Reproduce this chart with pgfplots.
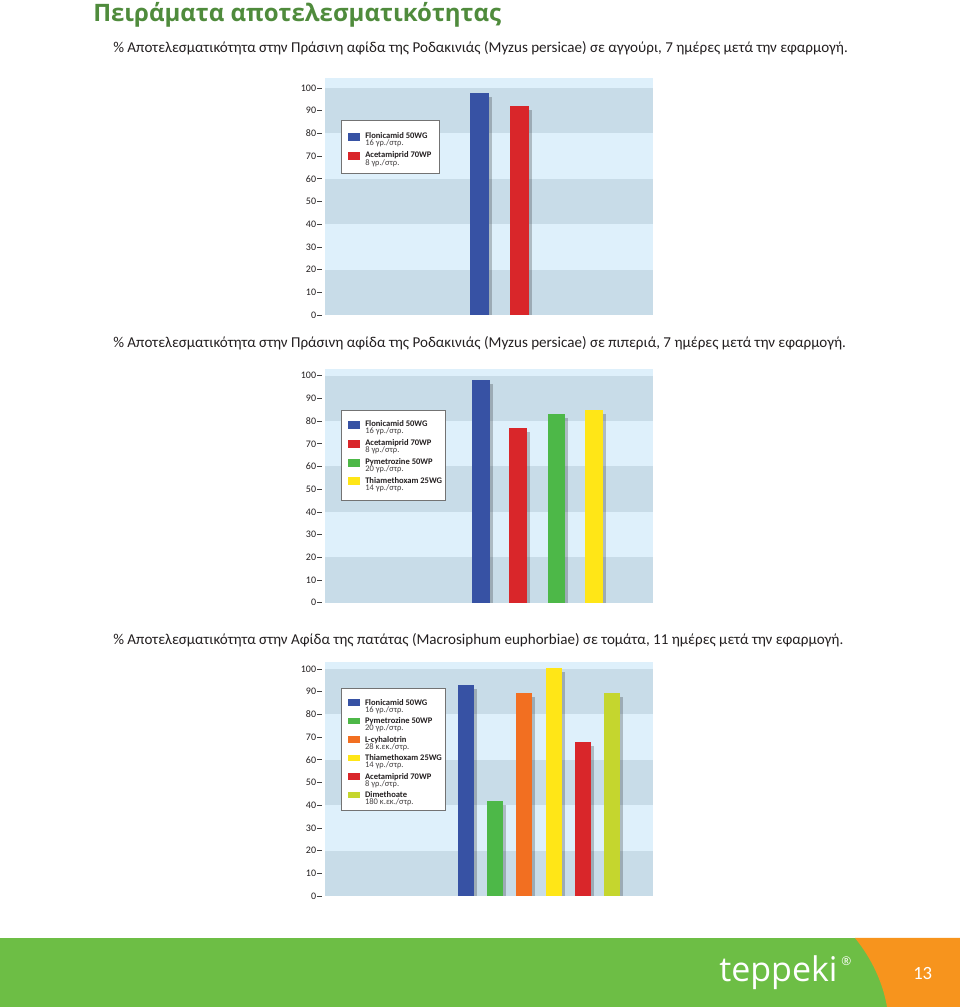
\documentclass[border=0pt]{standalone}
\usepackage{pgfplots}
\pgfplotsset{compat=1.18}
\usepackage{fontspec}
\setmainfont{Carlito}
\newfontfamily\titlefont{Open Sans}
\newfontfamily\logofont{Open Sans}

\definecolor{bandA}{RGB}{200,220,232}
\definecolor{bandB}{RGB}{222,240,251}
\definecolor{cblue}{RGB}{55,82,164}
\definecolor{cred}{RGB}{217,38,42}
\definecolor{cgreen}{RGB}{77,184,72}
\definecolor{cyellow}{RGB}{255,230,23}
\definecolor{corange}{RGB}{242,111,33}
\definecolor{clime}{RGB}{197,214,46}
\definecolor{titlegreen}{RGB}{79,139,60}
\definecolor{footgreen}{RGB}{109,190,69}
\definecolor{footorange}{RGB}{247,148,29}
\definecolor{txt}{RGB}{35,31,32}

\pgfplotsset{
  mychart/.style={
    scale only axis, width=246pt,
    xmin=325, xmax=653, ymin=0,
    ytick={0,10,...,100}, xtick=\empty, ytick pos=left,
    axis line style={draw=none},
    tick align=outside, major tick length=3.75pt,
    ytick style={draw=black!75, line width=0.45pt, xshift=-2.25pt},
    yticklabel style={font=\fontsize{7.5}{7.5}\selectfont, text=txt, inner sep=0.5pt, xshift=-2.25pt},
    /pgf/number format/assume math mode=true,
  },
  shadowbar/.style={ybar, bar shift=0pt, bar width=#1, draw=none, fill=black, fill opacity=0.22, xshift=2.3pt, yshift=-3pt},
  colbar/.style 2 args={ybar, bar shift=0pt, bar width=#1, draw=none, fill=#2},
}
\newcommand{\bands}[1]{%
  \fill[bandA] (325,0) rectangle (653,20);
  \fill[bandB] (325,20) rectangle (653,40);
  \fill[bandA] (325,40) rectangle (653,60);
  \fill[bandB] (325,60) rectangle (653,80);
  \fill[bandA] (325,80) rectangle (653,100);
  \fill[bandB] (325,100) rectangle (653,#1);
}
\newcommand{\legfontb}{\fontsize{6.4}{6.4}\selectfont\bfseries}
\newcommand{\legfont}{\fontsize{6.4}{6.4}\selectfont}
% #1 swatch left, #2 swatch top (px, y down), #3 swatch height, #4 colour, #5 name, #6 dose
\newcommand{\legentry}[6]{%
  \fill[#4] (#1,1007-#2) rectangle (#1+12.5,1007-#2-#3);
  \node[anchor=base west, inner sep=0, font=\legfontb, text=txt] at (#1+17.3,1007-#2-5.6) {#5};
  \node[anchor=base west, inner sep=0, font=\legfont, text=txt!85] at (#1+17.3,1007-#2-12.8) {#6};
}
\newcommand{\subtitle}[2]{%
  \node[anchor=base west, inner sep=0, text=txt, font=\fontsize{11.3}{12}\selectfont] at (113,1007-#1) {#2};
}

\begin{document}
\begin{tikzpicture}[x=0.75pt,y=0.75pt]
\path[use as bounding box] (0,0) rectangle (960,1007);

% title
\node[anchor=base west, inner sep=0, text=titlegreen, font=\titlefont\bfseries\fontsize{18}{19}\selectfont] at (93,1007-21.7) {Πειράματα αποτελεσματικότητας};

\subtitle{53}{\% Αποτελεσματικότητα στην Πράσινη αφίδα της Ροδακινιάς (Myzus persicae) σε αγγούρι, 7 ημέρες μετά την εφαρμογή.}
\subtitle{348}{\% Αποτελεσματικότητα στην Πράσινη αφίδα της Ροδακινιάς (Myzus persicae) σε πιπεριά, 7 ημέρες μετά την εφαρμογή.}
\subtitle{645}{\% Αποτελεσματικότητα στην Αφίδα της πατάτας (Macrosiphum euphorbiae) σε τομάτα, 11 ημέρες μετά την εφαρμογή.}

% ---------- chart 1 ----------
\begin{axis}[mychart, at={(243.75pt,519pt)}, anchor=south west, height=177.9pt, ymax=104.5]
\bands{104.5}
\addplot[shadowbar=19] coordinates {(479.5,98)};
\addplot[colbar={19}{cblue}] coordinates {(479.5,98)};
\addplot[shadowbar=19] coordinates {(519,92)};
\addplot[colbar={19}{cred}] coordinates {(519,92)};
\end{axis}

% ---------- chart 2 ----------
\begin{axis}[mychart, at={(243.75pt,303.2pt)}, anchor=south west, height=175.4pt, ymax=103]
\bands{103}
\addplot[shadowbar=17.5] coordinates {(480.8,98)};
\addplot[colbar={17.5}{cblue}] coordinates {(480.8,98)};
\addplot[shadowbar=17.5] coordinates {(518.2,77)};
\addplot[colbar={17.5}{cred}] coordinates {(518.2,77)};
\addplot[shadowbar=17.5] coordinates {(556.6,83)};
\addplot[colbar={17.5}{cgreen}] coordinates {(556.6,83)};
\addplot[shadowbar=17.5] coordinates {(594,85)};
\addplot[colbar={17.5}{cyellow}] coordinates {(594,85)};
\end{axis}

% ---------- chart 3 ----------
\begin{axis}[mychart, at={(243.75pt,83.25pt)}, anchor=south west, height=175.4pt, ymax=103]
\bands{103}
\addplot[shadowbar=15.5] coordinates {(465.8,93)};
\addplot[colbar={15.5}{cblue}] coordinates {(465.8,93)};
\addplot[shadowbar=15.5] coordinates {(494.8,42)};
\addplot[colbar={15.5}{cgreen}] coordinates {(494.8,42)};
\addplot[shadowbar=15.5] coordinates {(524,89.5)};
\addplot[colbar={15.5}{corange}] coordinates {(524,89.5)};
\addplot[shadowbar=15.5] coordinates {(554,100.3)};
\addplot[colbar={15.5}{cyellow}] coordinates {(554,100.3)};
\addplot[shadowbar=15.5] coordinates {(582.8,68)};
\addplot[colbar={15.5}{cred}] coordinates {(582.8,68)};
\addplot[shadowbar=15.5] coordinates {(612.2,89.5)};
\addplot[colbar={15.5}{clime}] coordinates {(612.2,89.5)};
\end{axis}

% ---------- legends ----------
\draw[fill=white, draw=black!55, line width=0.45pt] (341.7,1007-120.7) rectangle (439.3,1007-173.3);
\legentry{347.7}{132.7}{8}{cblue}{Flonicamid 50WG}{16 γρ./στρ.}
\legentry{347.7}{152.3}{8}{cred}{Acetamiprid 70WP}{8 γρ./στρ.}

\draw[fill=white, draw=black!55, line width=0.45pt] (341.7,1007-410) rectangle (445.7,1007-500);
\legentry{347.7}{421}{8}{cblue}{Flonicamid 50WG}{16 γρ./στρ.}
\legentry{347.7}{440}{8}{cred}{Acetamiprid 70WP}{8 γρ./στρ.}
\legentry{347.7}{458.8}{8}{cgreen}{Pymetrozine 50WP}{20 γρ./στρ.}
\legentry{347.7}{477.5}{8}{cyellow}{Thiamethoxam 25WG}{14 γρ./στρ.}

\draw[fill=white, draw=black!55, line width=0.45pt] (341.2,1007-688.8) rectangle (445.2,1007-810);
\legentry{347.5}{699.5}{6.2}{cblue}{Flonicamid 50WG}{16 γρ./στρ.}
\legentry{347.5}{718}{6.2}{cgreen}{Pymetrozine 50WP}{20 γρ./στρ.}
\legentry{347.5}{736.5}{6.2}{corange}{L-cyhalotrin}{28 κ.εκ./στρ.}
\legentry{347.5}{755}{6.2}{cyellow}{Thiamethoxam 25WG}{14 γρ./στρ.}
\legentry{347.5}{773.5}{6.2}{cred}{Acetamiprid 70WP}{8 γρ./στρ.}
\legentry{347.5}{792}{6.2}{clime}{Dimethoate}{180 κ.εκ./στρ.}

% ---------- footer ----------
\fill[footgreen] (0,0) rectangle (960,69);
\fill[footorange] (855,69) .. controls (872,48) and (883,24) .. (887,0) -- (960,0) -- (960,69) -- cycle;
\node[anchor=base west, inner sep=0, text=white, font=\logofont\fontsize{25.5}{25.5}\selectfont] at (719,1007-982) {teppeki};
\node[anchor=base west, inner sep=0, text=white, font=\logofont\fontsize{9}{9}\selectfont] at (841,1007-966) {®};
\node[anchor=base west, inner sep=0, text=white, font=\fontsize{14}{14}\selectfont] at (913,1007-979.5) {13};
\end{tikzpicture}
\end{document}
